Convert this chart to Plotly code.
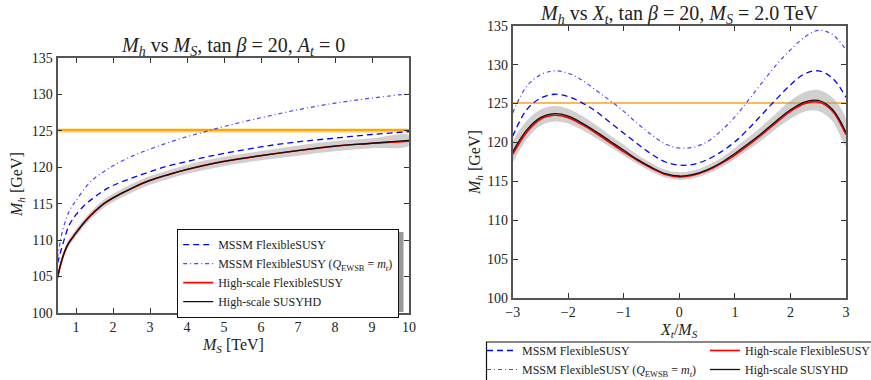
import plotly.graph_objects as go

# ---------------- left panel: M_h vs M_S ----------------
ms = [0.5, 0.6, 0.7, 0.8, 0.9, 1.0, 1.25, 1.5, 1.75, 2.0, 2.5, 3.0, 3.5, 4.0,
      4.5, 5.0, 6.0, 7.0, 8.0, 9.0, 10.0]
ms_mssm = [106.8, 108.7, 110.4, 111.9, 112.8, 113.5, 114.9, 115.9, 116.8, 117.5,
           118.5, 119.4, 120.2, 120.8, 121.4, 121.9, 122.8, 123.5, 124.0, 124.5, 124.9]
ms_mssm_mt = [107.6, 110.5, 112.4, 113.8, 114.7, 115.4, 117.2, 118.5, 119.4, 120.2,
              121.5, 122.5, 123.4, 124.2, 124.9, 125.6, 126.8, 127.9, 128.8, 129.5, 130.1]
ms_hs_fs = [104.8, 106.9, 108.5, 109.6, 110.3, 111.0, 112.6, 113.9, 115.0, 115.8,
            117.1, 118.2, 119.0, 119.7, 120.3, 120.8, 121.6, 122.3, 122.9, 123.3, 123.6]
ms_susyhd = [104.9, 107.0, 108.5, 109.6, 110.3, 111.0, 112.6, 113.9, 115.0, 115.8,
             117.1, 118.2, 119.0, 119.7, 120.3, 120.8, 121.6, 122.3, 122.9, 123.3, 123.7]
ms_susyhd_hi = [105.3, 107.45, 109.0, 110.1, 110.8, 111.5, 113.1, 114.45, 115.55, 116.35,
                117.7, 118.8, 119.6, 120.3, 120.95, 121.45, 122.25, 123.0, 123.6, 124.0, 124.4]
ms_susyhd_lo = [104.5, 106.55, 108.0, 109.1, 109.8, 110.5, 112.1, 113.35, 114.45, 115.25,
                116.5, 117.6, 118.4, 119.1, 119.65, 120.15, 120.95, 121.6, 122.2, 122.6, 123.0]

# ---------------- right panel: M_h vs X_t/M_S ----------------
xt = [-3.0, -2.75, -2.5, -2.25, -2.0, -1.75, -1.5, -1.25, -1.0, -0.75, -0.5, -0.25, 0.0,
      0.25, 0.5, 0.75, 1.0, 1.25, 1.5, 1.75, 2.0, 2.25, 2.5, 2.75, 3.0]
xt_mssm = [120.8, 124.2, 125.7, 126.2, 125.9, 125.1, 124.0, 122.6, 121.2, 119.8, 118.5,
           117.5, 117.1, 117.2, 117.8, 118.8, 120.1, 121.8, 123.7, 125.6, 127.4, 128.8,
           129.2, 128.3, 125.8]
xt_mssm_mt = [123.8, 127.2, 128.7, 129.2, 128.9, 128.0, 126.7, 125.4, 124.0, 122.4, 121.0,
              119.8, 119.3, 119.4, 120.1, 121.5, 123.3, 125.5, 127.8, 130.0, 131.9, 133.5,
              134.4, 133.9, 131.9]
xt_hs_fs = [118.5, 121.3, 123.0, 123.5, 123.2, 122.3, 121.2, 120.0, 118.8, 117.7, 116.7,
            115.9, 115.6, 115.8, 116.4, 117.3, 118.4, 119.7, 121.1, 122.6, 124.0, 125.0,
            125.2, 124.1, 121.0]
xt_susyhd = [118.8, 121.6, 123.2, 123.7, 123.4, 122.5, 121.4, 120.2, 119.0, 117.8, 116.8,
             116.0, 115.7, 115.9, 116.5, 117.4, 118.6, 119.9, 121.3, 122.8, 124.2, 125.2,
             125.4, 124.3, 121.3]
xt_susyhd_hi = [120.2, 122.8, 124.25, 124.7, 124.35, 123.4, 122.25, 120.95, 119.7, 118.4,
                117.35, 116.5, 116.2, 116.4, 117.05, 118.0, 119.3, 120.7, 122.2, 123.8,
                125.35, 126.45, 126.75, 125.8, 123.0]
xt_susyhd_lo = [117.4, 120.4, 122.15, 122.7, 122.45, 121.6, 120.55, 119.45, 118.3, 117.2,
                116.25, 115.5, 115.2, 115.4, 115.95, 116.8, 117.9, 119.1, 120.4, 121.8,
                123.05, 123.95, 124.05, 122.8, 119.6]

# measured Higgs mass
mh_exp = 125.09
mh_exp_lo = 124.7
mh_exp_hi = 125.4

names = ["MSSM FlexibleSUSY",
         "MSSM FlexibleSUSY (<i>Q</i><sub>EWSB</sub> = <i>m</i><sub><i>t</i></sub>)",
         "High-scale FlexibleSUSY",
         "High-scale SUSYHD"]

FONT = "Liberation Serif"
BLUE = "#0000ff"
BLUE2 = "#4848ff"
GREY_BAND = "rgba(150,150,150,0.45)"
FRAME = "#555555"

W, H = 871, 380


def px(x):
    return x / W


def py(y):
    return 1 - y / H


fig = go.Figure()


def add_panel(xs, mssm, mssm_mt, hsfs, shd, shd_hi, shd_lo, xa, ya, legs):
    fig.add_trace(go.Scatter(x=xs + xs[::-1], y=shd_hi + shd_lo[::-1], fill="toself",
                             fillcolor=GREY_BAND, line=dict(width=0, shape="spline"),
                             mode="lines", showlegend=False, hoverinfo="skip",
                             xaxis=xa, yaxis=ya))
    fig.add_trace(go.Scatter(x=xs, y=mssm, mode="lines", name=names[0],
                             line=dict(color=BLUE, width=1.3, dash="6px,4px", shape="spline"),
                             legend=legs[0], xaxis=xa, yaxis=ya))
    fig.add_trace(go.Scatter(x=xs, y=mssm_mt, mode="lines", name=names[1],
                             line=dict(color=BLUE2, width=1.2, dash="4px,3px,1px,3px",
                                       shape="spline"),
                             legend=legs[1], xaxis=xa, yaxis=ya))
    fig.add_trace(go.Scatter(x=xs, y=hsfs, mode="lines", name=names[2],
                             line=dict(color="#ff0000", width=1.7, shape="spline"),
                             legend=legs[2], xaxis=xa, yaxis=ya))
    fig.add_trace(go.Scatter(x=xs, y=shd, mode="lines", name=names[3],
                             line=dict(color="#111111", width=1.3, shape="spline"),
                             legend=legs[3], xaxis=xa, yaxis=ya))


# left: measured band drawn under the curves
fig.add_trace(go.Scatter(x=[ms[0], ms[-1], ms[-1], ms[0]],
                         y=[mh_exp_lo, mh_exp_lo, mh_exp_hi, mh_exp_hi],
                         fill="toself", fillcolor="rgba(255,190,60,0.35)",
                         line=dict(width=0), mode="lines", showlegend=False,
                         hoverinfo="skip", xaxis="x", yaxis="y"))
fig.add_trace(go.Scatter(x=[ms[0], ms[-1]], y=[mh_exp, mh_exp], mode="lines",
                         line=dict(color="#ffa500", width=2.2), showlegend=False,
                         hoverinfo="skip", xaxis="x", yaxis="y"))
add_panel(ms, ms_mssm, ms_mssm_mt, ms_hs_fs, ms_susyhd, ms_susyhd_hi, ms_susyhd_lo,
          "x", "y", ["legend", "legend", "legend", "legend"])

fig.add_trace(go.Scatter(x=[xt[0], xt[-1]], y=[mh_exp, mh_exp], mode="lines",
                         line=dict(color="#f5a623", width=1.5), showlegend=False,
                         hoverinfo="skip", xaxis="x2", yaxis="y2"))
add_panel(xt, xt_mssm, xt_mssm_mt, xt_hs_fs, xt_susyhd, xt_susyhd_hi, xt_susyhd_lo,
          "x2", "y2", ["legend2", "legend2", "legend3", "legend3"])

axis_common = dict(showline=True, linecolor=FRAME, linewidth=1.8, mirror="allticks",
                   ticks="inside", ticklen=5, tickwidth=1.2, tickcolor="#333333",
                   showgrid=False, zeroline=False,
                   tickfont=dict(family=FONT, size=14, color="#222222"))

legend_font = dict(family=FONT, size=12, color="#222222")

fig.update_layout(
    width=W, height=H, margin=dict(l=0, r=0, t=0, b=0, autoexpand=False),
    paper_bgcolor="white", plot_bgcolor="white",
    font=dict(family=FONT, size=12, color="#222222"),
    xaxis=dict(domain=[px(57.5), px(409)], range=[0.5, 10], tickvals=list(range(1, 11)),
               anchor="y", **axis_common),
    yaxis=dict(domain=[py(313), py(58)], range=[100, 135],
               tickvals=[100, 105, 110, 115, 120, 125, 130, 135], anchor="x", **axis_common),
    xaxis2=dict(domain=[px(512.7), px(846)], range=[-3, 3], tickvals=[-3, -2, -1, 0, 1, 2, 3],
                ticktext=["\u22123", "\u22122", "\u22121", "0", "1", "2", "3"],
                anchor="y2", **axis_common),
    yaxis2=dict(domain=[py(298.3), py(25.7)], range=[100, 135],
                tickvals=[100, 105, 110, 115, 120, 125, 130, 135], anchor="x2", **axis_common),
    legend=dict(xref="container", yref="container", x=px(177), y=py(229),
                xanchor="left", yanchor="top",
                bgcolor="white", bordercolor="#111111", borderwidth=1.2,
                font=legend_font, tracegroupgap=0),
    legend2=dict(xref="container", yref="container", x=px(482), y=py(336),
                 xanchor="left", yanchor="top",
                 bgcolor="rgba(0,0,0,0)", borderwidth=0, font=legend_font),
    legend3=dict(xref="container", yref="container", x=px(705), y=py(336),
                 xanchor="left", yanchor="top",
                 bgcolor="rgba(0,0,0,0)", borderwidth=0, font=legend_font),
    showlegend=True,
)

# legend shadow (left) and frame (right, runs off the page)
fig.add_shape(type="rect", xref="paper", yref="paper",
              x0=px(180), x1=px(403.5), y0=py(312), y1=py(232),
              fillcolor="#999999", line=dict(width=0), layer="above")
fig.add_shape(type="rect", xref="paper", yref="paper",
              x0=px(486.5), x1=px(880), y0=py(395), y1=py(342),
              fillcolor="rgba(0,0,0,0)", line=dict(color="#111111", width=1.2))

ann = dict(xref="paper", yref="paper", showarrow=False,
           font=dict(family=FONT, size=20, color="#222222"))
fig.add_annotation(x=px(233), y=py(46), xanchor="center", yanchor="middle",
                   text="<i>M</i><sub><i>h</i></sub> vs <i>M</i><sub><i>S</i></sub>, "
                        "tan <i>\u03b2</i> = 20, <i>A</i><sub><i>t</i></sub> = 0", **ann)
fig.add_annotation(x=px(679), y=py(14), xanchor="center", yanchor="middle",
                   text="<i>M</i><sub><i>h</i></sub> vs <i>X</i><sub><i>t</i></sub>, "
                        "tan <i>\u03b2</i> = 20, <i>M</i><sub><i>S</i></sub> = 2.0 TeV", **ann)

lab = dict(xref="paper", yref="paper", showarrow=False,
           font=dict(family=FONT, size=16, color="#222222"))
fig.add_annotation(x=px(233), y=py(345), xanchor="center", yanchor="middle",
                   text="<i>M</i><sub><i>S</i></sub> [TeV]", **lab)
fig.add_annotation(x=px(17), y=py(185), xanchor="center", yanchor="middle", textangle=-90,
                   text="<i>M</i><sub><i>h</i></sub> [GeV]", **lab)
fig.add_annotation(x=px(679), y=py(330), xanchor="center", yanchor="middle",
                   text="<i>X</i><sub><i>t</i></sub>/<i>M</i><sub><i>S</i></sub>", **lab)
fig.add_annotation(x=px(475), y=py(162), xanchor="center", yanchor="middle", textangle=-90,
                   text="<i>M</i><sub><i>h</i></sub> [GeV]", **lab)

fig.write_html("out.html")
